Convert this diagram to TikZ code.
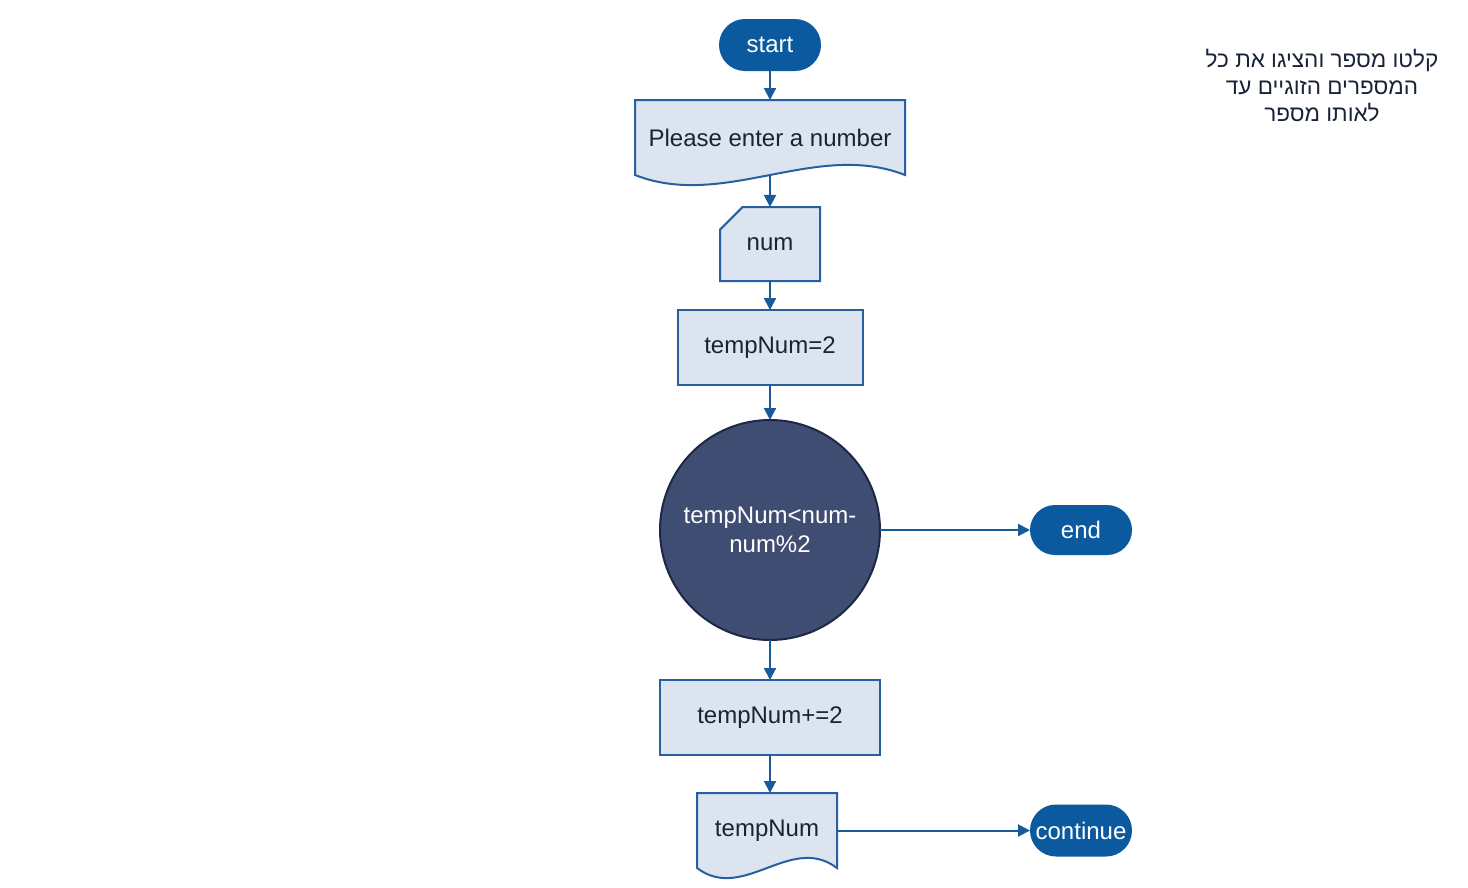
\documentclass[tikz,border=0pt]{standalone}
\usepackage{fontspec}
\setmainfont{Liberation Sans}
\newfontfamily\hebfont[Script=Hebrew]{Liberation Sans}
\TeXXeTstate=1
\usepackage{tikz}
\usetikzlibrary{positioning, shapes.misc, arrows.meta, calc, backgrounds}
\definecolor{pill}{RGB}{11,90,160}
\definecolor{boxfill}{RGB}{220,228,240}
\definecolor{boxline}{RGB}{40,95,160}
\definecolor{arr}{RGB}{25,90,155}
\definecolor{txt}{RGB}{25,35,55}
\definecolor{dec}{RGB}{64,77,114}
\definecolor{decline}{RGB}{28,40,70}

% wavy bottom for the document boxes
\newcommand{\docshape}[1]{%
  \draw[boxline, fill=boxfill, line width=2pt] (#1.south west) -- (#1.north west) -- (#1.north east) -- (#1.south east)
    .. controls ($(#1.south east)!0.33!(#1.south west)+(0,-35)$) and ($(#1.south east)!0.67!(#1.south west)+(0,35)$) .. (#1.south west) -- cycle;}

\begin{document}
\begin{tikzpicture}[x=1pt, y=-1pt,
                    every node/.style = {font=\fontsize{24}{29}\selectfont, text=txt, outer sep=0pt},
                    terminal/.style = {rounded rectangle, fill=pill, text=white, minimum width=102pt, minimum height=52pt, inner sep=0pt},
                    procbox/.style = {rectangle, draw=boxline, fill=boxfill, line width=2pt, minimum height=75pt},
                    card/.style = {chamfered rectangle, chamfered rectangle corners=north west, chamfered rectangle sep=16pt,
                                   draw=boxline, fill=boxfill, line width=2pt, minimum width=100pt, minimum height=74pt, inner sep=0pt},
                    docnode/.style = {rectangle, minimum height=75pt, inner sep=0pt},
                    decision/.style = {circle, draw=decline, fill=dec, text=white, line width=2pt, minimum size=220pt, align=center, inner sep=0pt},
                    flow/.style = {draw=arr, line width=2pt, -{Triangle[length=12pt,width=12pt]}}]
    \useasboundingbox (0,0) rectangle (1468,887);
    \node (start) [terminal] at (770,45) {start};
    \node (prompt) [docnode, minimum width=270pt, below=29pt of start] {Please enter a number};
    \node (num) [card, below=32pt of prompt] {num};
    \node (init) [procbox, minimum width=185pt, below=29pt of num] {tempNum=2};
    \node (cond) [decision, below=35pt of init] {tempNum<num-\\num\%2};
    \node (end) [terminal, minimum height=50pt, right=150pt of cond] {end};
    \node (inc) [procbox, minimum width=220pt, below=40pt of cond] {tempNum+=2};
    \node (out) [docnode, minimum width=140pt, below=38pt of inc, xshift=-3pt] {tempNum};
    \node (cont) [terminal, right=193pt of out] {continue};
    \node (note) [font=\hebfont\fontsize{22.5}{27}\selectfont, align=center] at (1322,86)
        {\beginR קלטו מספר והציגו את כל\endR\\ \beginR המספרים הזוגיים עד\endR\\ \beginR לאותו מספר\endR};
    \begin{scope}[on background layer]
        \docshape{prompt}
        \docshape{out}
    \end{scope}
    \draw[flow] (start) -- (prompt);
    \draw[flow] (prompt.south) -- (num);
    \draw[flow] (num) -- (init);
    \draw[flow] (init) -- (cond);
    \draw[flow] (cond) -- (end);
    \draw[flow] (cond) -- (inc);
    \draw[flow] (inc) -- (inc |- out.north);
    \draw[flow] (out) -- (cont);
\end{tikzpicture}
\end{document}
